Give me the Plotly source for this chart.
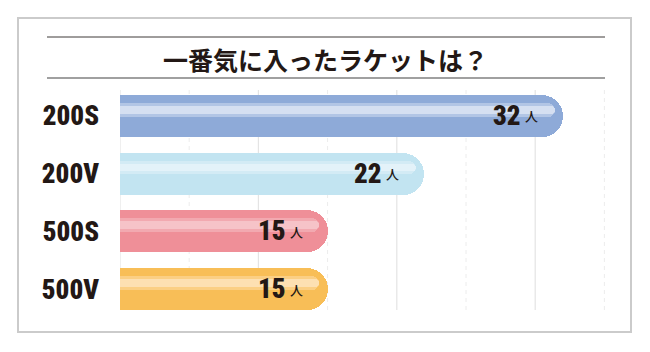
import plotly.graph_objects as go

categories = ["200S", "200V", "500S", "500V"]
values = [32, 22, 15, 15]
unit = "人"
bar_colors = ["#8eaad8", "#c2e4f1", "#ef8f98", "#f8be57"]
bar_top = ["#84a0d2", "#b6dcec", "#e9858f", "#f4b54c"]
shine_colors = ["#d5dff1", "#e3f2f9", "#f6c3c8", "#fde0b2"]
shine_soft = ["rgba(213,223,241,0.5)", "rgba(227,242,249,0.5)",
              "rgba(246,195,200,0.5)", "rgba(253,224,178,0.5)"]
grid_solid = [0, 10, 20, 30]
grid_dashed = [5, 15, 25, 35]
title = "一番気に入ったラケットは？"

W, H = 650, 352
px = lambda x: x / W
py = lambda y: 1 - y / H

num_font = ("Roboto Condensed, Noto Sans Condensed, Open Sans Condensed, "
            "Liberation Sans Narrow, DejaVu Sans Condensed, sans-serif")
jp_font = "Noto Sans CJK JP, sans-serif"
ink = "#231815"

fig = go.Figure()

fig.add_trace(go.Bar(
    y=categories, x=values, orientation="h",
    marker=dict(color=bar_colors, cornerradius="50%", line=dict(width=0)),
    width=0.728, hoverinfo="skip", showlegend=False,
))
fig.add_trace(go.Bar(
    y=categories, x=[v - 0.6 for v in values], orientation="h",
    marker=dict(color=shine_soft, cornerradius="50%", line=dict(width=0)),
    width=0.24, offset=-0.225, hoverinfo="skip", showlegend=False,
))
fig.add_trace(go.Bar(
    y=categories, x=[v - 0.75 for v in values], orientation="h",
    marker=dict(color=shine_colors, cornerradius="50%", line=dict(width=0)),
    width=0.13, offset=-0.17, hoverinfo="skip", showlegend=False,
))

shapes = []
shapes.append(dict(type="rect", xref="paper", yref="paper",
                   x0=px(18), x1=px(631), y0=py(332), y1=py(18),
                   line=dict(color="#cbcbcb", width=2), fillcolor="white",
                   layer="below"))
shapes.append(dict(type="line", xref="paper", yref="paper",
                   x0=px(47), x1=px(605), y0=py(37), y1=py(37),
                   line=dict(color="#3e3a39", width=1)))
shapes.append(dict(type="line", xref="paper", yref="paper",
                   x0=px(47), x1=px(605), y0=py(78), y1=py(78),
                   line=dict(color="#a0a0a0", width=2)))
for g in grid_solid:
    shapes.append(dict(type="line", xref="x", yref="paper", x0=g, x1=g,
                       y0=py(310), y1=py(90),
                       line=dict(color="#e4e4e4", width=1.2), layer="below"))
for g in grid_dashed:
    shapes.append(dict(type="line", xref="x", yref="paper", x0=g, x1=g,
                       y0=py(310), y1=py(90),
                       line=dict(color="#ececec", width=1, dash="4px,4px"),
                       layer="below"))

annotations = [dict(
    text=f"<b>{title}</b>", xref="paper", yref="paper",
    x=px(326), y=py(59), xanchor="center", yanchor="middle",
    showarrow=False, font=dict(family=jp_font, size=25, color=ink),
)]
for c, v in zip(categories, values):
    annotations.append(dict(
        text=str(v), x=v, y=c, xref="x", yref="y",
        xanchor="right", yanchor="middle", xshift=-40, yshift=0,
        showarrow=False,
        font=dict(family=num_font, size=27, color=ink, weight=900),
    ))
    annotations.append(dict(
        text=unit, x=v, y=c, xref="x", yref="y",
        xanchor="right", yanchor="middle", xshift=-23, yshift=0,
        showarrow=False, font=dict(family=jp_font, size=13, color=ink,
                                   weight=500),
    ))

fig.update_layout(
    width=W, height=H,
    margin=dict(l=0, r=0, t=0, b=0),
    paper_bgcolor="white", plot_bgcolor="rgba(0,0,0,0)",
    barmode="overlay", bargap=0,
    shapes=shapes, annotations=annotations,
    xaxis=dict(domain=[px(120), px(120 + 36 * 13.84)], range=[0, 36],
               showgrid=False, zeroline=False, showticklabels=False,
               showline=False, fixedrange=True),
    yaxis=dict(domain=[py(317.9), py(87.1)], type="category",
               categoryorder="array", categoryarray=categories,
               range=[3.5, -0.5], showgrid=False, zeroline=False,
               showline=False, ticks="", ticklabelstandoff=20,
               tickfont=dict(family=num_font, size=27, color=ink, weight=900),
               fixedrange=True),
)

fig.write_html("out.html")
